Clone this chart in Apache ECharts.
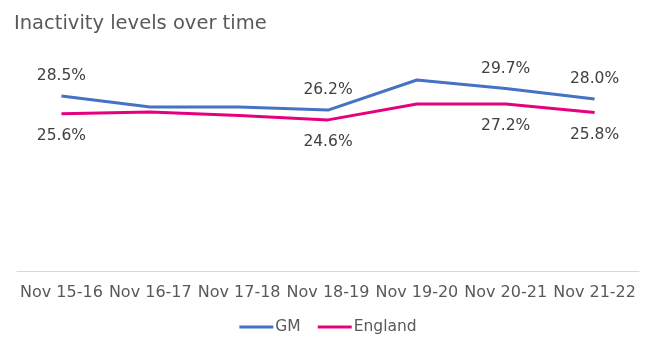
<!DOCTYPE html>
<html>
<head>
<meta charset="utf-8">
<title>Inactivity levels over time</title>
<script src="https://cdn.jsdelivr.net/npm/echarts@6/dist/echarts.min.js"></script>
<style>
  html, body { margin: 0; padding: 0; background: #fff; }
  #chart { width: 656px; height: 351px; }
</style>
</head>
<body>
<div id="chart"></div>
<script>
var periods = ['Nov 15-16', 'Nov 16-17', 'Nov 17-18', 'Nov 18-19', 'Nov 19-20', 'Nov 20-21', 'Nov 21-22'];
var gmValues = [28.5, 26.7, 26.7, 26.2, 31.1, 29.7, 28.0];
var englandValues = [25.6, 25.9, 25.3, 24.6, 27.2, 27.2, 25.8];
// only these points carry a value label in the original
var labelled = [0, 3, 5, 6];

var txtFont = '"DejaVu Sans", sans-serif';

function withLabels(values, pos, dist) {
    return values.map(function (v, i) {
        var item = { value: v };
        if (labelled.indexOf(i) > -1) {
            item.label = { show: true, position: pos, distance: dist };
        }
        return item;
    });
}

var myChart = echarts.init(document.getElementById('chart'));
var option = {
    animation: false,
    title: {
        text: 'Inactivity levels over time',
        left: 14,
        top: 14,
        padding: 0,
        textStyle: { color: '#595959', fontSize: 19.5, fontWeight: 'normal', fontFamily: txtFont }
    },
    legend: {
        data: ['GM', 'England'],
        bottom: 11,
        left: 'center',
        icon: 'rect',
        itemWidth: 34,
        itemHeight: 3,
        itemGap: 17,
        textStyle: { color: '#595959', fontSize: 15.5, fontFamily: txtFont, padding: [0, 0, 0, -3] }
    },
    grid: { left: 17, right: 17, top: 56, bottom: 80 },
    xAxis: {
        type: 'category',
        data: periods,
        boundaryGap: true,
        axisLine: { lineStyle: { color: '#d9d9d9', width: 1 } },
        axisTick: { show: false },
        axisLabel: { color: '#595959', fontSize: 16, fontFamily: txtFont, interval: 0, margin: 14 }
    },
    yAxis: {
        type: 'value',
        min: 0,
        max: 35,
        show: false
    },
    series: [
        {
            name: 'GM',
            type: 'line',
            data: withLabels(gmValues, 'top', 12),
            symbol: 'circle',
            symbolSize: 0,
            showSymbol: true,
            lineStyle: { color: '#4472c4', width: 3 },
            itemStyle: { color: '#4472c4' },
            label: { show: false, color: '#404040', fontSize: 15.5, fontFamily: txtFont, formatter: function (p) { return p.value.toFixed(1) + '%'; } }
        },
        {
            name: 'England',
            type: 'line',
            data: withLabels(englandValues, 'bottom', 14),
            symbol: 'circle',
            symbolSize: 0,
            showSymbol: true,
            lineStyle: { color: '#e6007e', width: 3 },
            itemStyle: { color: '#e6007e' },
            label: { show: false, color: '#404040', fontSize: 15.5, fontFamily: txtFont, formatter: function (p) { return p.value.toFixed(1) + '%'; } }
        }
    ]
};
myChart.setOption(option);
</script>
</body>
</html>
